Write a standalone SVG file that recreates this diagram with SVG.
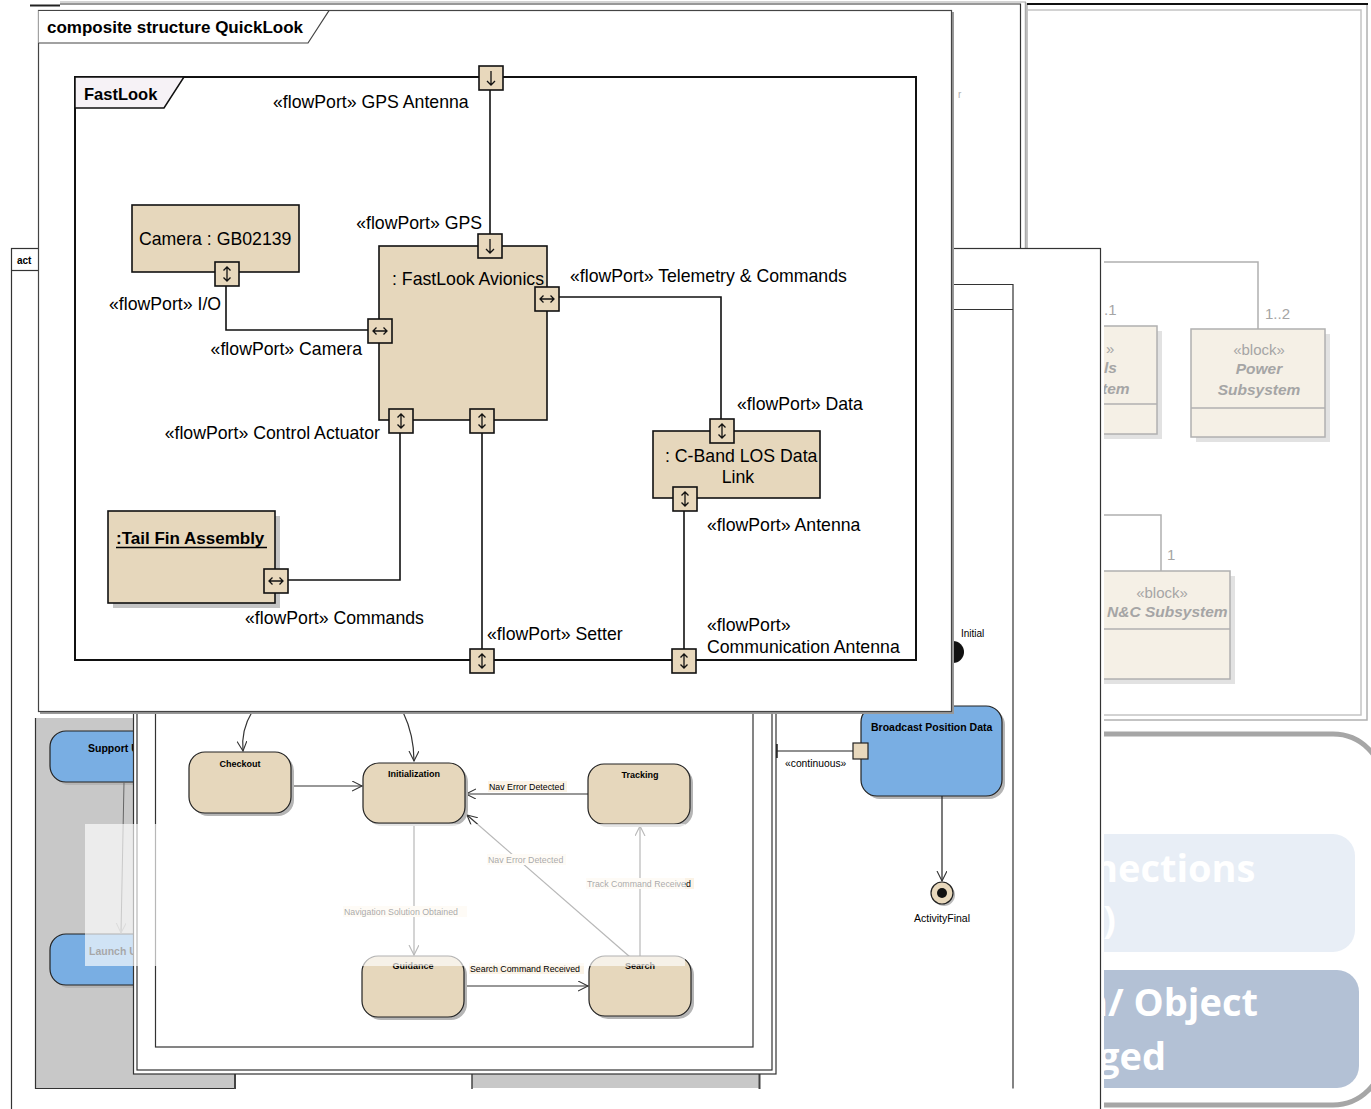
<svg xmlns="http://www.w3.org/2000/svg" xmlns:xlink="http://www.w3.org/1999/xlink" width="1371" height="1109" viewBox="0 0 1371 1109">
<defs>
<style>
text{font-family:"Liberation Sans",Arial,sans-serif;fill:#000;}
.lbl{font-size:17.7px;}
.port{fill:#e8d8bc;stroke:#111;stroke-width:1.6;}
.ico{fill:none;stroke:#111;stroke-width:1.3;}
.wire{fill:none;stroke:#111;stroke-width:1.6;}
.part{fill:#e6d7bc;stroke:#111;stroke-width:1.6;}
.st{fill:#e6d7bc;stroke:#222;stroke-width:1.2;}
.sh{fill:#b5b5b5;}
.sname{font-size:9px;font-weight:bold;text-anchor:middle;}
.tl{font-size:8.8px;}
.tlbg{fill:#fbf3e6;}
.tr{fill:none;stroke:#333;stroke-width:1.2;}
.act{fill:#79aee3;stroke:#222;stroke-width:1.2;}
.abold{font-size:10.5px;font-weight:bold;}
.bdd{fill:#f5f0e6;stroke:#b0b0b0;stroke-width:1.5;}
.bsh{fill:#e2e2e2;}
.bddt{fill:#a5a5a5;font-size:15px;}
.bddb{fill:#a5a5a5;font-size:15.5px;font-weight:bold;font-style:italic;}
.gline{fill:none;stroke:#b0b0b0;stroke-width:1.5;}
.slide{font-family:"Open Sans",sans-serif;font-weight:700;font-size:38px;fill:#fff;}
.frame{fill:#fff;stroke:#333;stroke-width:1.2;}
.dk{stroke:#333;stroke-width:1.2;fill:none;}
</style>
<marker id="open" markerWidth="12" markerHeight="12" refX="10" refY="5" orient="auto" markerUnits="userSpaceOnUse"><path d="M0,0 L10,5 L0,10" fill="none" stroke="#333" stroke-width="1.1"/></marker>
<marker id="openg" markerWidth="12" markerHeight="12" refX="10" refY="5" orient="auto" markerUnits="userSpaceOnUse"><path d="M0,0 L10,5 L0,10" fill="none" stroke="#999" stroke-width="1"/></marker>
<g id="pv"><rect class="port" x="-12" y="-12" width="24" height="24"/><path class="ico" d="M0,-7 V7 M-3.5,-3.5 L0,-7 L3.5,-3.5 M-3.5,3.5 L0,7 L3.5,3.5"/></g>
<g id="ph"><rect class="port" x="-12" y="-12" width="24" height="24"/><path class="ico" d="M-7,0 H7 M-3.5,-3.5 L-7,0 L-3.5,3.5 M3.5,-3.5 L7,0 L3.5,3.5"/></g>
<g id="pd"><rect class="port" x="-12" y="-12" width="24" height="24"/><path class="ico" d="M0,-7 V7 M-4,3 L0,7 L4,3"/></g>
</defs>

<!-- background slide -->
<g id="slide">
<rect x="1000" y="734" width="383" height="371" rx="50" fill="#fff" stroke="#a6a6a6" stroke-width="5"/>
<rect x="1060" y="834" width="295" height="118" rx="22" fill="#e8eef6"/>
<text class="slide" x="1093" y="882">nections</text>
<text class="slide" x="1103" y="933">)</text>
<rect x="1060" y="970" width="299" height="118" rx="22" fill="#b3c1d5"/>
<text class="slide" x="1083" y="1016">n/ Object</text>
<text class="slide" x="1098" y="1070">ged</text>
</g>

<!-- block definition diagram -->
<g id="bdd">
<rect x="1027" y="4" width="340" height="716" fill="#fff" stroke="#b0b0b0" stroke-width="1.5"/>
<line x1="1027" y1="4" x2="1368" y2="4" stroke="#111" stroke-width="2"/>
<rect x="1027" y="10" width="334" height="705" fill="none" stroke="#c4c4c4" stroke-width="1.5"/>
<polyline class="gline" points="1060,262 1258,262 1258,329"/>
<polyline class="gline" points="1060,515 1161,515 1161,571"/>
<text class="bddt" x="1265" y="319">1..2</text>
<text class="bddt" x="1104" y="315">.1</text>
<text class="bddt" x="1167" y="560">1</text>
<g id="blk-controls">
<rect class="bsh" x="1065" y="331" width="97" height="108"/>
<rect class="bdd" x="1060" y="326" width="97" height="108"/>
<line class="gline" x1="1060" y1="404" x2="1157" y2="404"/>
<text class="bddt" x="1106" y="354">»</text>
<text class="bddb" x="1104" y="373">ls</text>
<text class="bddb" x="1102" y="394">tem</text>
</g>
<g id="blk-power">
<rect class="bsh" x="1196" y="334" width="134" height="108"/>
<rect class="bdd" x="1191" y="329" width="134" height="108"/>
<line class="gline" x1="1191" y1="408" x2="1325" y2="408"/>
<text class="bddt" x="1259" y="355" text-anchor="middle">«block»</text>
<text class="bddb" x="1259" y="374" text-anchor="middle">Power</text>
<text class="bddb" x="1259" y="395" text-anchor="middle">Subsystem</text>
</g>
<g id="blk-gnc">
<rect class="bsh" x="1065" y="576" width="170" height="108"/>
<rect class="bdd" x="1060" y="571" width="170" height="108"/>
<line class="gline" x1="1060" y1="629" x2="1230" y2="629"/>
<text class="bddt" x="1162" y="598" text-anchor="middle">«block»</text>
<text class="bddb" x="1107" y="617">N&amp;C Subsystem</text>
</g>
</g>

<!-- frame behind composite -->
<g id="frameA">
<line x1="60" y1="2" x2="1026" y2="2" stroke="#aaa" stroke-width="1.2"/>
<line x1="1025.5" y1="2" x2="1025.5" y2="248" stroke="#aaa" stroke-width="1.5"/>
<rect x="45" y="4.5" width="975.5" height="700" fill="#fff"/>
<path class="dk" d="M60,4 H1020.5 V705"/>
<path d="M30,5.5 H60" stroke="#222" stroke-width="2"/>
<text x="958" y="98" font-size="10" style="fill:#b0b0b0">r</text>
</g>

<!-- activity diagram frame -->
<g id="act-frame">
<rect x="11" y="248" width="1093" height="870" fill="#fff"/>
<rect x="11.5" y="248.5" width="1089" height="880" fill="none" stroke="#333" stroke-width="1.2"/>
<path class="dk" d="M11.5,270.5 H40"/>
<text x="17" y="264" font-size="10" font-weight="bold">act</text>
<path class="dk" d="M42,284.5 H1013 V1088.5"/>
<path class="dk" d="M42,309.5 H1013"/>
<rect x="36" y="718" width="199" height="370" fill="#c8c8c8"/>
<path class="dk" d="M35.5,718 V1088.5 H235"/>
<line x1="235" y1="700" x2="235" y2="1089" stroke="#444" stroke-width="2"/>
<rect x="472" y="1060" width="287" height="28" fill="#c8c8c8"/>
<line x1="472" y1="1060" x2="472" y2="1089" stroke="#444" stroke-width="1.5"/>
<line x1="759.5" y1="1060" x2="759.5" y2="1089" stroke="#444" stroke-width="2"/>
</g>

<!-- activity nodes -->
<g id="act-support">
<rect class="sh" x="53" y="734" width="150" height="51" rx="16"/>
<rect class="act" x="50" y="731" width="150" height="51" rx="16"/>
<text class="abold" x="88" y="752">Support U</text>
</g>
<g id="act-launch">
<rect class="sh" x="53" y="937" width="150" height="51" rx="16"/>
<rect class="act" x="50" y="934" width="150" height="51" rx="16"/>
<text class="abold" x="89" y="955">Launch U</text>
</g>
<g id="act-broadcast">
<rect class="sh" x="864" y="709" width="141" height="90" rx="16"/>
<rect class="act" x="861" y="706" width="141" height="90" rx="16"/>
<text class="abold" x="871" y="731">Broadcast Position Data</text>
<rect x="853" y="743" width="15" height="16" fill="#e8d8bc" stroke="#222" stroke-width="1.2"/>
</g>
<g id="act-initial">
<circle cx="953" cy="652" r="11" fill="#111"/>
<text x="961" y="637" font-size="10">Initial</text>
</g>
<g id="act-final">
<circle cx="944" cy="895" r="11" fill="#bbb"/>
<circle cx="942" cy="893" r="11" fill="#e8d8bc" stroke="#222" stroke-width="1.2"/>
<circle cx="942" cy="893" r="5" fill="#111"/>
<text x="914" y="922" font-size="10.5">ActivityFinal</text>
</g>
<g id="act-edges">
<line x1="124" y1="782" x2="121" y2="933" stroke="#666" stroke-width="1" marker-end="url(#openg)"/>
<line x1="776" y1="751" x2="853" y2="751" stroke="#222" stroke-width="1.2"/>
<line x1="776.5" y1="744" x2="776.5" y2="758" stroke="#222" stroke-width="2.5"/>
<text x="785" y="767" font-size="10.3">«continuous»</text>
<line x1="942" y1="796" x2="942" y2="881" stroke="#222" stroke-width="1.2" marker-end="url(#open)"/>
</g>

<!-- state machine -->
<g id="stm-frame">
<rect class="frame" x="133.5" y="600" width="642.5" height="474"/>
<rect x="137" y="600" width="635" height="470" fill="none" stroke="#333" stroke-width="1.2"/>
<rect x="155.5" y="600" width="597.5" height="447" fill="#fff" stroke="#333" stroke-width="1.2"/>
</g>
<g id="stm-transitions">
<path class="tr" d="M252,712 Q241,730 243,751" marker-end="url(#open)"/>
<path class="tr" d="M403,712 Q414,735 414,761" marker-end="url(#open)"/>
<line class="tr" x1="292" y1="786" x2="362" y2="786" marker-end="url(#open)"/>
<line class="tr" x1="588" y1="794" x2="466" y2="794" stroke-width="1.5" marker-end="url(#open)"/>
<rect class="tlbg" x="488" y="781" width="79" height="11"/>
<text class="tl" x="489" y="790">Nav Error Detected</text>
<line class="tr" x1="630" y1="957" x2="467" y2="815" marker-end="url(#open)"/>
<rect class="tlbg" x="487" y="854" width="79" height="11"/>
<text class="tl" x="488" y="863">Nav Error Detected</text>
<line class="tr" x1="640" y1="956" x2="640" y2="826" marker-end="url(#open)"/>
<rect class="tlbg" x="586" y="878" width="108" height="11"/>
<text class="tl" x="587" y="887">Track Command Received</text>
<line class="tr" x1="414" y1="823" x2="414" y2="955" marker-end="url(#open)"/>
<rect class="tlbg" x="343" y="906" width="124" height="11"/>
<text class="tl" x="344" y="915">Navigation Solution Obtained</text>
<line class="tr" x1="464" y1="986" x2="588" y2="986" marker-end="url(#open)"/>
<rect class="tlbg" x="469" y="963" width="115" height="11"/>
<text class="tl" x="470" y="972">Search Command Received</text>
</g>
<g id="st-checkout"><rect class="sh" x="192" y="755" width="102" height="61" rx="16"/><rect class="st" x="189" y="752" width="102" height="61" rx="16"/><text class="sname" x="240" y="767">Checkout</text></g>
<g id="st-init"><rect class="sh" x="366" y="766" width="102" height="60" rx="16"/><rect class="st" x="363" y="763" width="102" height="60" rx="16"/><text class="sname" x="414" y="777">Initialization</text></g>
<g id="st-tracking"><rect class="sh" x="591" y="767" width="102" height="60" rx="16"/><rect class="st" x="588" y="764" width="102" height="60" rx="16"/><text class="sname" x="640" y="778">Tracking</text></g>
<g id="st-guidance"><rect class="sh" x="365" y="959" width="102" height="61" rx="16"/><rect class="st" x="362" y="956" width="102" height="61" rx="16"/><text class="sname" x="413" y="969">Guidance</text></g>
<g id="st-search"><rect class="sh" x="592" y="959" width="102" height="60" rx="16"/><rect class="st" x="589" y="956" width="102" height="60" rx="16"/><text class="sname" x="640" y="969">Search</text></g>

<!-- faded overlay -->
<rect x="85" y="824" width="600" height="142" fill="#fff" fill-opacity="0.65"/>

<!-- composite structure -->
<g id="cs-frame">
<rect x="40" y="12" width="914" height="702" fill="#999"/>
<rect x="38.5" y="10.5" width="913" height="701" fill="#fff" stroke="#444" stroke-width="1.2"/>
<path d="M38.5,10.5 H329 L308,43 H38.5" fill="#fff" stroke="#444" stroke-width="1.2"/>
<text x="47" y="33" font-size="17px" font-weight="bold">composite structure QuickLook</text>
</g>
<g id="fastlook">
<rect x="75" y="77" width="841" height="583" fill="none" stroke="#111" stroke-width="2"/>
<path d="M75,77 H184 L164,108 H75 Z" fill="#f6f2f6" stroke="#111" stroke-width="1.5"/>
<text x="84" y="100" font-size="16.5px" font-weight="bold">FastLook</text>
</g>
<g id="connectors">
<line class="wire" x1="490" y1="90" x2="490" y2="234"/>
<polyline class="wire" points="226,286 226,330 368,330"/>
<polyline class="wire" points="559,297 721,297 721,419"/>
<line class="wire" x1="684" y1="511" x2="684" y2="649"/>
<line class="wire" x1="482" y1="433" x2="482" y2="649"/>
<polyline class="wire" points="400,433 400,580 288,580"/>
</g>
<g id="camera">
<rect class="part" x="132" y="205" width="167" height="67"/>
<text class="lbl" x="139" y="245">Camera : GB02139</text>
</g>
<g id="avionics">
<rect class="part" x="379" y="246" width="168" height="174"/>
<text class="lbl" x="392" y="285">: FastLook Avionics</text>
</g>
<g id="cband">
<rect class="part" x="653" y="431" width="167" height="67"/>
<text class="lbl" x="665" y="462">: C-Band LOS Data</text>
<text class="lbl" x="738" y="483" text-anchor="middle">Link</text>
</g>
<g id="tailfin">
<rect fill="#c4c4c4" x="113" y="516" width="167" height="92"/>
<rect class="part" x="108" y="511" width="167" height="92"/>
<text x="116" y="544" font-size="17px" font-weight="bold">:Tail Fin Assembly</text>
<line x1="116" y1="547.5" x2="267" y2="547.5" stroke="#000" stroke-width="1.3"/>
</g>
<g id="ports">
<use xlink:href="#pd" href="#pd" x="491" y="78"/>
<use xlink:href="#pd" href="#pd" x="490" y="246"/>
<use xlink:href="#ph" href="#ph" x="547" y="299"/>
<use xlink:href="#pv" href="#pv" x="722" y="431"/>
<use xlink:href="#pv" href="#pv" x="685" y="499"/>
<use xlink:href="#pv" href="#pv" x="684" y="661"/>
<use xlink:href="#pv" href="#pv" x="482" y="661"/>
<use xlink:href="#pv" href="#pv" x="401" y="421"/>
<use xlink:href="#pv" href="#pv" x="482" y="421"/>
<use xlink:href="#ph" href="#ph" x="380" y="331"/>
<use xlink:href="#pv" href="#pv" x="227" y="274"/>
<use xlink:href="#ph" href="#ph" x="276" y="581"/>
</g>
<g id="port-labels">
<text class="lbl" x="273" y="108">«flowPort» GPS Antenna</text>
<text class="lbl" x="482" y="229" text-anchor="end">«flowPort» GPS</text>
<text class="lbl" x="109" y="310">«flowPort» I/O</text>
<text class="lbl" x="362" y="355" text-anchor="end">«flowPort» Camera</text>
<text class="lbl" x="570" y="282">«flowPort» Telemetry &amp; Commands</text>
<text class="lbl" x="737" y="410">«flowPort» Data</text>
<text class="lbl" x="707" y="531">«flowPort» Antenna</text>
<text class="lbl" x="380" y="439" text-anchor="end">«flowPort» Control Actuator</text>
<text class="lbl" x="245" y="624">«flowPort» Commands</text>
<text class="lbl" x="487" y="640">«flowPort» Setter</text>
<text class="lbl" x="707" y="631">«flowPort»</text>
<text class="lbl" x="707" y="653">Communication Antenna</text>
</g>
</svg>
